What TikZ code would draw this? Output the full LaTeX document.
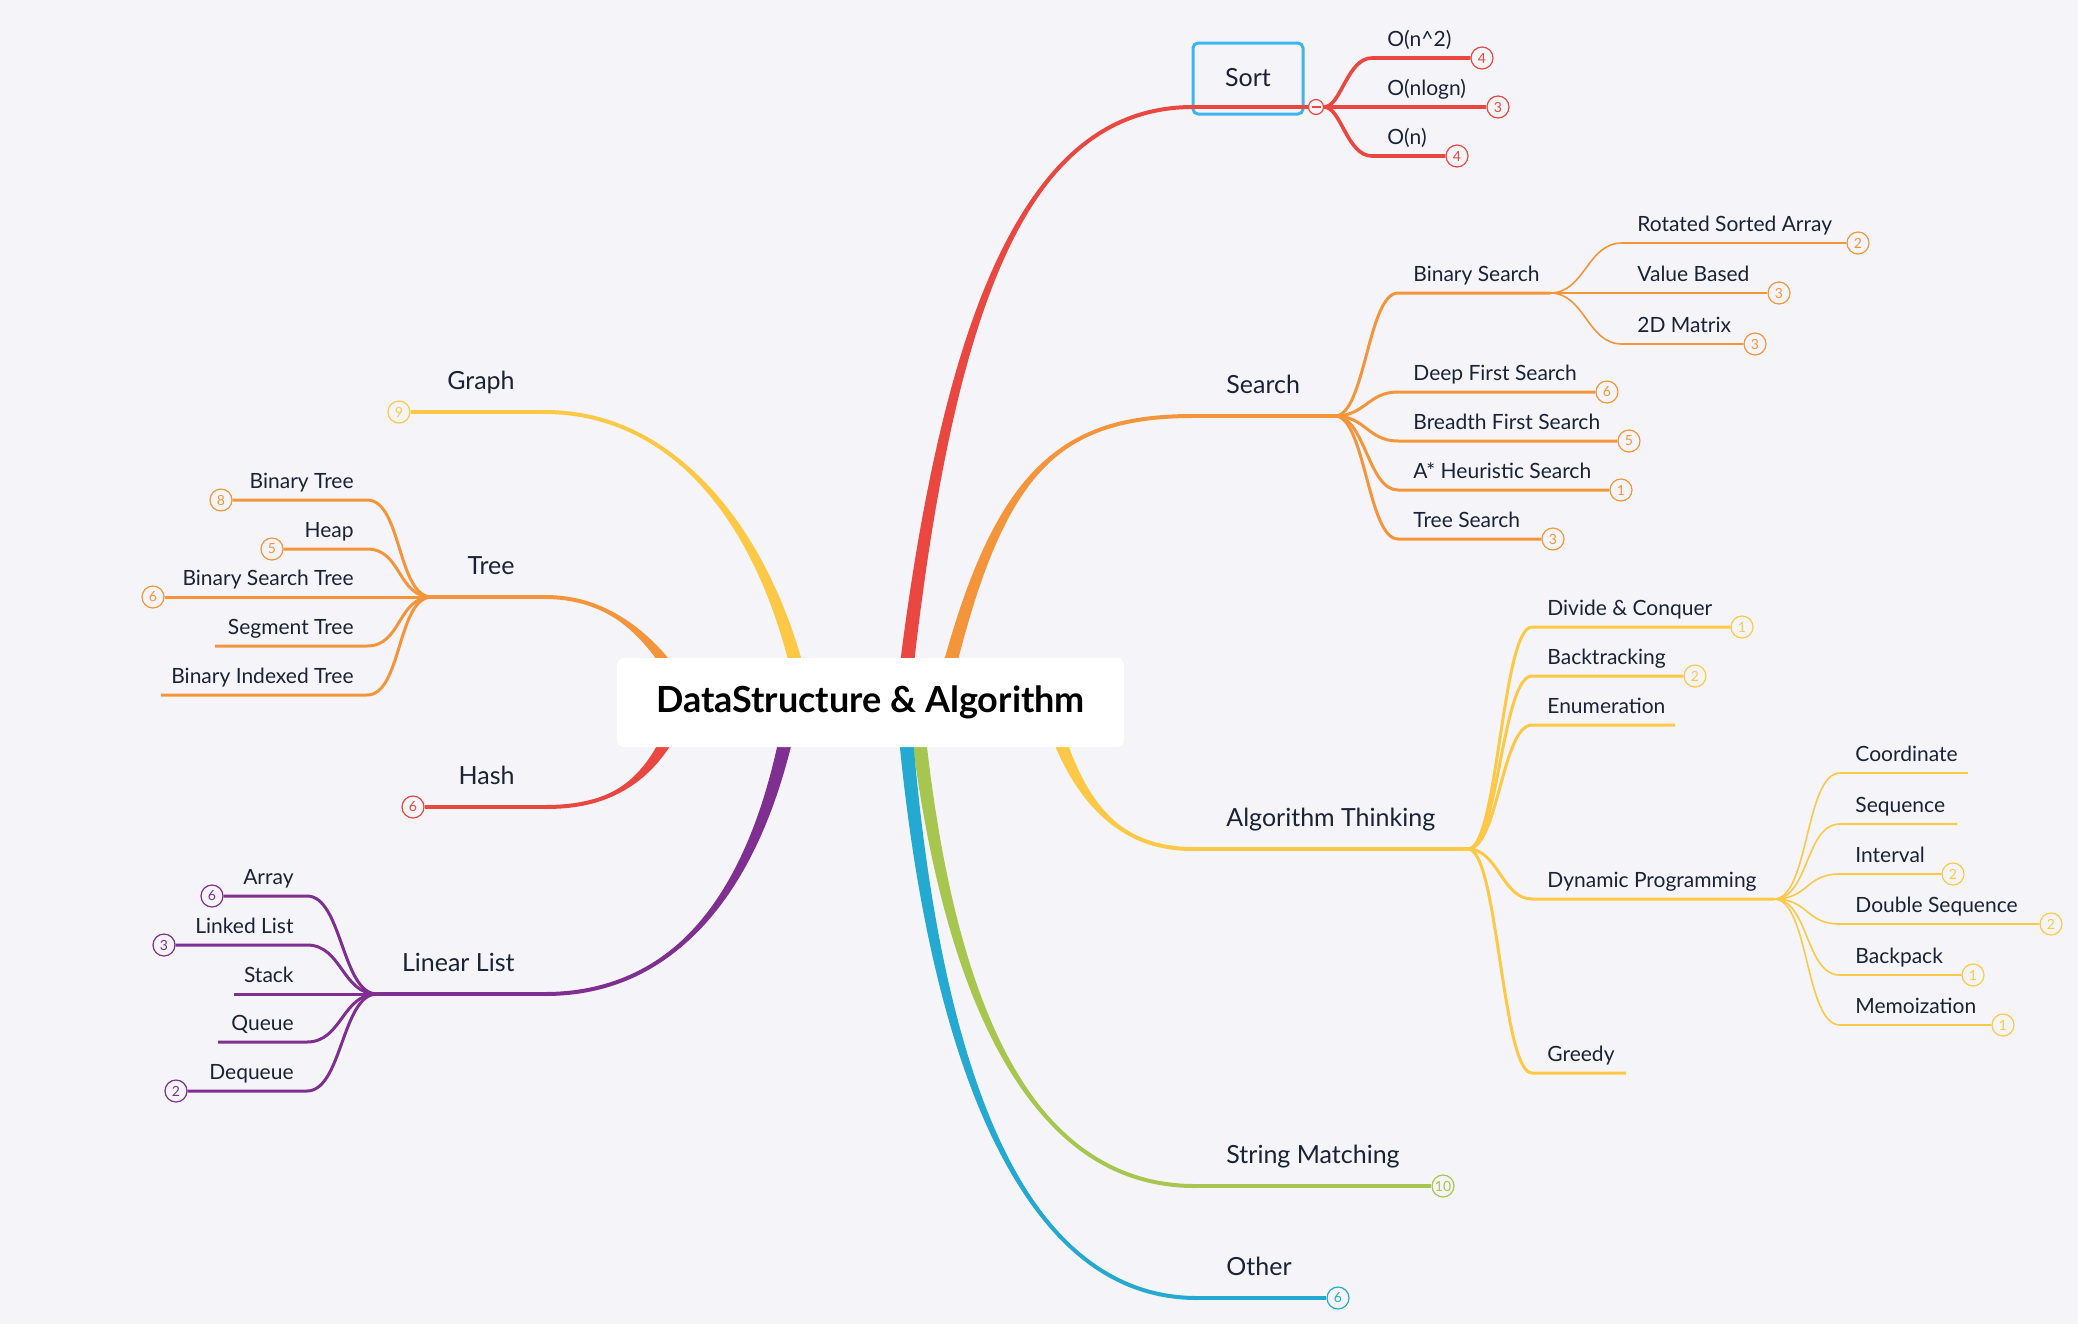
\documentclass[tikz,border=0pt]{standalone}
\usepackage{fontspec}
\setmainfont{Lato}
\usetikzlibrary{calc}

\definecolor{fondo}{HTML}{F5F5F9}
\definecolor{tinta}{HTML}{1A2236}
\definecolor{rojo}{HTML}{E9473F}
\definecolor{naranja}{HTML}{F5953B}
\definecolor{amarillo}{HTML}{FDC845}
\definecolor{verde}{HTML}{A7C650}
\definecolor{azul}{HTML}{24A9D0}
\definecolor{morado}{HTML}{7E2F8F}
\definecolor{marco}{HTML}{3FB5F0}

\tikzset{
  etiq/.style={font=\fontsize{10.5}{12}\selectfont, text=tinta, inner sep=0pt},
  rama/.style={font=\fontsize{12.5}{14}\selectfont, text=tinta, inner sep=0pt},
  insignia/.style={circle, draw=#1, text=#1, fill=fondo, line width=0.6pt,
    minimum size=11pt, inner sep=0pt, font=\fontsize{7}{8}\selectfont},
  raiz/.style={fill=white, rounded corners=3.5pt, minimum width=253.5pt,
    minimum height=44.5pt, font=\bfseries\fontsize{18}{21}\selectfont, text=black},
}

% separacion de los puntos de control de las ramas hijas
\newcommand\kd{30}

% hijo a la derecha: color, grosor, origen, nombre, x esquina, y, x final, texto, numero
\newcommand\hijoR[9]{%
  \coordinate (#4) at (#5,#6);
  \node[etiq, anchor=base west] (#4-t) at ($(#4)+(15,-12)$) {#8};
  \def\numero{#9}%
  \ifx\numero\empty
    \coordinate (#4-e) at (#7,#6);
  \else
    \node[insignia=#1] (#4-e) at (#7,#6) {#9};
  \fi
  \draw[#1, line width=#2] (#3) .. controls +(\kd,0) and +(-\kd,0) .. (#4) -- (#4-e);
}

% hijo a la izquierda: mismos argumentos
\newcommand\hijoL[9]{%
  \coordinate (#4) at (#5,#6);
  \node[etiq, anchor=base east] (#4-t) at ($(#4)+(-13,-12)$) {#8};
  \def\numero{#9}%
  \ifx\numero\empty
    \coordinate (#4-e) at (#7,#6);
  \else
    \node[insignia=#1] (#4-e) at (#7,#6) {#9};
  \fi
  \draw[#1, line width=#2] (#3) .. controls +(-\kd,0) and +(\kd,0) .. (#4) -- (#4-e);
}

% rama principal que se adelgaza: color, inicio, control 1, control 2, fin, sentido
\newcommand\tronco[6]{%
  \fill[#1] ($(#2)+(-7,0)$) .. controls ($#3+(-5,0)$) and ($#4+(0,2.5*#6)$) .. (#5)
    .. controls ($#4+(0,-2.5*#6)$) and ($#3+(5,0)$) .. ($(#2)+(7,0)$) -- cycle;
  \draw[#1, line width=2pt] (#2) .. controls #3 and #4 .. (#5);
}

\begin{document}
\begin{tikzpicture}[x=0.5pt, y=-0.5pt]
  % fondo
  \useasboundingbox (0,0) rectangle (2078,1324);
  \fill[fondo] (0,0) rectangle (2078,1324);

  % Sort
  \node[rama, draw=marco, line width=1.5pt, rounded corners=2.5pt,
    minimum width=55pt, minimum height=35.5pt] (sort) at (1248,78.5) {\raisebox{1.5pt}{Sort}};
  \coordinate (sort-r) at (906,672);
  \coordinate (sort-c) at (1193,107);
  \tronco{rojo}{sort-r}{(950,300)}{(1030,107)}{sort-c}{-1}
  \node[circle, draw=rojo, fill=fondo, line width=0.6pt, minimum size=7.5pt,
    inner sep=0pt] (sort-f) at (1316,107) {};
  \draw[rojo, line width=2pt] (sort-c) -- (sort-f);
  \draw[rojo, line width=0.6pt] ($(sort-f)+(-4.5,0)$) -- ($(sort-f)+(4.5,0)$);
  \def\kd{25}
  \hijoR{rojo}{1.8pt}{sort-f}{on2}{1372}{58}{1482}{O(n\textasciicircum2)}{4}
  \hijoR{rojo}{1.8pt}{sort-f}{onlogn}{1372}{107}{1498}{O(nlogn)}{3}
  \hijoR{rojo}{1.8pt}{sort-f}{on}{1372}{156}{1457}{O(n)}{4}

  % Search
  \coordinate (search-r) at (948,672);
  \coordinate (search-c) at (1193,416);
  \coordinate (search-f) at (1335,416);
  \tronco{naranja}{search-r}{(1000,470)}{(1060,416)}{search-c}{-1}
  \draw[naranja, line width=2pt] (search-c) -- (search-f);
  \node[rama, anchor=base west] (search) at ($(search-c)+(33,-23)$) {Search};
  \def\kd{30}
  \hijoR{naranja}{1.5pt}{search-f}{bs}{1398}{293}{1550}{Binary Search}{}
  \hijoR{naranja}{1.5pt}{search-f}{dfs}{1398}{392}{1607}{Deep First Search}{6}
  \hijoR{naranja}{1.5pt}{search-f}{bfs}{1398}{441}{1629}{Breadth First Search}{5}
  \hijoR{naranja}{1.5pt}{search-f}{astar}{1398}{490}{1621}{A* Heuristic Search}{1}
  \hijoR{naranja}{1.5pt}{search-f}{ts}{1398}{539}{1553}{Tree Search}{3}
  \def\kd{35}
  \hijoR{naranja}{0.8pt}{bs-e}{rsa}{1622}{243}{1858}{Rotated Sorted Array}{2}
  \hijoR{naranja}{0.8pt}{bs-e}{vb}{1622}{293}{1779}{Value Based}{3}
  \hijoR{naranja}{0.8pt}{bs-e}{m2d}{1622}{344}{1755}{2D Matrix}{3}

  % Algorithm Thinking
  \coordinate (algo-r) at (1058,736);
  \coordinate (algo-c) at (1193,849);
  \coordinate (algo-f) at (1468,849);
  \tronco{amarillo}{algo-r}{(1085,810)}{(1125,849)}{algo-c}{1}
  \draw[amarillo, line width=2pt] (algo-c) -- (algo-f);
  \node[rama, anchor=base west] (algo) at ($(algo-c)+(33,-23)$) {Algorithm Thinking};
  \def\kd{30}
  \hijoR{amarillo}{1.5pt}{algo-f}{dc}{1532}{627}{1742}{Divide \& Conquer}{1}
  \hijoR{amarillo}{1.5pt}{algo-f}{bt}{1532}{676}{1695}{Backtracking}{2}
  \hijoR{amarillo}{1.5pt}{algo-f}{en}{1532}{725}{1675}{Enumeration}{}
  \hijoR{amarillo}{1.5pt}{algo-f}{dp}{1532}{899}{1774}{Dynamic Programming}{}
  \hijoR{amarillo}{1.5pt}{algo-f}{gr}{1532}{1073}{1626}{Greedy}{}
  \def\kd{35}
  \hijoR{amarillo}{0.8pt}{dp-e}{co}{1840}{773}{1968}{Coordinate}{}
  \hijoR{amarillo}{0.8pt}{dp-e}{se}{1840}{824}{1957}{Sequence}{}
  \hijoR{amarillo}{0.8pt}{dp-e}{in}{1840}{874}{1953}{Interval}{2}
  \hijoR{amarillo}{0.8pt}{dp-e}{ds}{1840}{924}{2051}{Double Sequence}{2}
  \hijoR{amarillo}{0.8pt}{dp-e}{bp}{1840}{975}{1973}{Backpack}{1}
  \hijoR{amarillo}{0.8pt}{dp-e}{me}{1840}{1025}{2003}{Memoization}{1}

  % String Matching
  \coordinate (strm-r) at (919,738);
  \coordinate (strm-c) at (1195,1186);
  \tronco{verde}{strm-r}{(950,1000)}{(1030,1186)}{strm-c}{1}
  \node[insignia=verde] (strm-b) at (1443,1186) {10};
  \draw[verde, line width=2pt] (strm-c) -- (strm-b);
  \node[rama, anchor=base west] (strm) at ($(strm-c)+(31,-23)$) {String Matching};

  % Other
  \coordinate (other-r) at (906,738);
  \coordinate (other-c) at (1197,1298);
  \tronco{azul}{other-r}{(935,1060)}{(1020,1298)}{other-c}{1}
  \node[insignia=azul] (other-b) at (1338,1298) {6};
  \draw[azul, line width=2pt] (other-c) -- (other-b);
  \node[rama, anchor=base west] (other) at ($(other-c)+(29,-23)$) {Other};

  % Graph
  \coordinate (graph-r) at (798,672);
  \coordinate (graph-c) at (545,412);
  \tronco{amarillo}{graph-r}{(760,520)}{(670,412)}{graph-c}{1}
  \node[insignia=amarillo] (graph-b) at (399,412) {9};
  \draw[amarillo, line width=2pt] (graph-c) -- (graph-b);
  \node[rama, anchor=base east] (graph) at ($(graph-c)+(-30,-23)$) {Graph};

  % Tree
  \coordinate (tree-r) at (672,672);
  \coordinate (tree-c) at (545,597);
  \coordinate (tree-f) at (432,597);
  \tronco{naranja}{tree-r}{(640,625)}{(600,597)}{tree-c}{1}
  \draw[naranja, line width=2pt] (tree-c) -- (tree-f);
  \node[rama, anchor=base east] (tree) at ($(tree-c)+(-30,-23)$) {Tree};
  \def\kd{35}
  \hijoL{naranja}{1.5pt}{tree-f}{bin}{367}{500}{221}{Binary Tree}{8}
  \hijoL{naranja}{1.5pt}{tree-f}{heap}{367}{549}{272}{Heap}{5}
  \hijoL{naranja}{1.5pt}{tree-f}{bst}{367}{597}{153}{Binary Search Tree}{6}
  \hijoL{naranja}{1.5pt}{tree-f}{seg}{367}{646}{215}{Segment Tree}{}
  \hijoL{naranja}{1.5pt}{tree-f}{bit}{367}{695}{161}{Binary Indexed Tree}{}

  % Hash
  \coordinate (hash-r) at (668,738);
  \coordinate (hash-c) at (545,807);
  \tronco{rojo}{hash-r}{(640,790)}{(600,807)}{hash-c}{-1}
  \node[insignia=rojo] (hash-b) at (413,807) {6};
  \draw[rojo, line width=2pt] (hash-c) -- (hash-b);
  \node[rama, anchor=base east] (hash) at ($(hash-c)+(-30,-23)$) {Hash};

  % Linear List
  \coordinate (lin-r) at (786,738);
  \coordinate (lin-c) at (545,994);
  \coordinate (lin-f) at (377,994);
  \tronco{morado}{lin-r}{(750,900)}{(670,994)}{lin-c}{-1}
  \draw[morado, line width=2pt] (lin-c) -- (lin-f);
  \node[rama, anchor=base east] (lin) at ($(lin-c)+(-30,-23)$) {Linear List};
  \hijoL{morado}{1.5pt}{lin-f}{arr}{307}{896}{212}{Array}{6}
  \hijoL{morado}{1.5pt}{lin-f}{ll}{307}{945}{164}{Linked List}{3}
  \hijoL{morado}{1.5pt}{lin-f}{st}{307}{994}{234}{Stack}{}
  \hijoL{morado}{1.5pt}{lin-f}{qu}{307}{1042}{218}{Queue}{}
  \hijoL{morado}{1.5pt}{lin-f}{dq}{307}{1091}{176}{Dequeue}{2}

  % nodo central
  \node[raiz] (root) at (870.5,702.5) {DataStructure \& Algorithm};
\end{tikzpicture}
\end{document}
